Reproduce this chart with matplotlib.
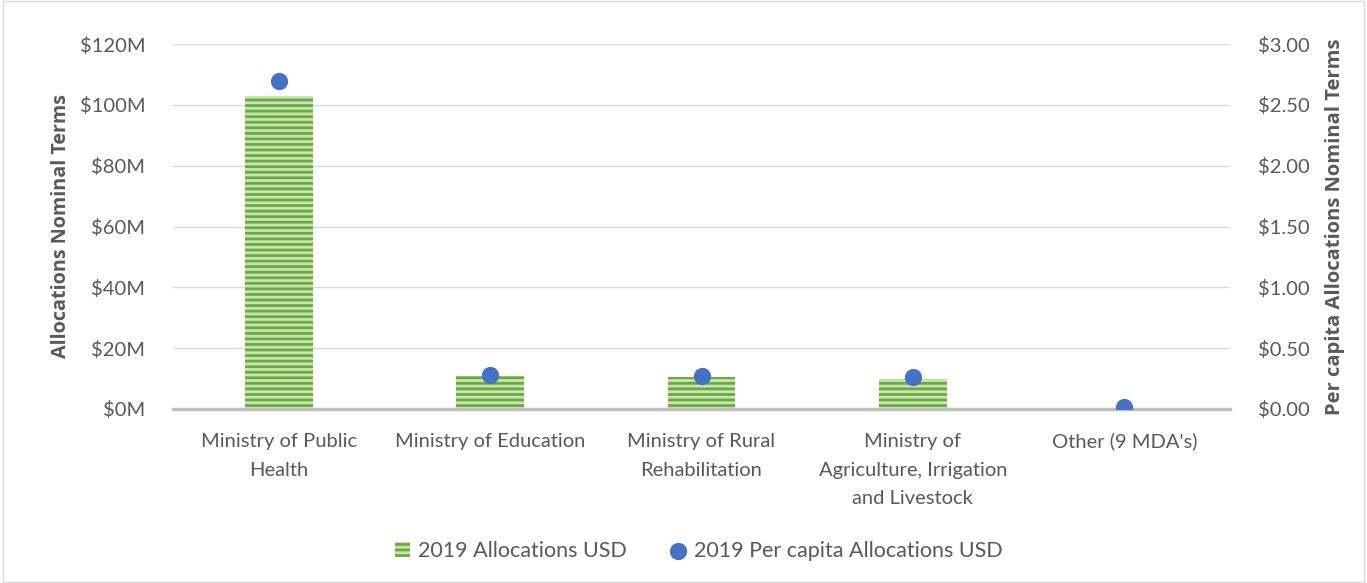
import matplotlib
matplotlib.use("Agg")
import matplotlib.pyplot as plt
import matplotlib.ticker as mticker
from matplotlib.patches import Rectangle

plt.rcParams['font.family'] = ['Lato', 'DejaVu Sans']
plt.rcParams['hatch.linewidth'] = 2.0

categories = ["Ministry of Public\nHealth", "Ministry of Education", "Ministry of Rural\nRehabilitation",
              "Ministry of\nAgriculture, Irrigation\nand Livestock", "Other (9 MDA's)"]
allocations_m = [103.0, 11.0, 10.6, 10.0, 0.2]
per_capita = [2.70, 0.28, 0.27, 0.26, 0.02]

text_color = '#595959'
fs = 14.5
fig = plt.figure(figsize=(13.67, 5.83), dpi=100)
fig.patches.append(Rectangle((0.002, 0.002), 0.996, 0.996, transform=fig.transFigure,
                             fill=False, edgecolor='#D9D9D9', linewidth=1))
ax = fig.add_axes([173/1367, 1-409/583, (1230-173)/1367, (409-44)/583])
x = list(range(len(categories)))
bars = ax.bar(x, allocations_m, width=0.32, color='#6AAB3F', edgecolor='#C9E3B5',
              hatch='---', linewidth=0, zorder=2, label='2019 Allocations USD')
ax.set_xlim(-0.5, 4.5)
ax.set_ylim(0, 120)
ax.yaxis.set_major_locator(mticker.MultipleLocator(20))
ax.yaxis.set_major_formatter(mticker.FuncFormatter(lambda v, p: f"${v:.0f}M"))
ax.grid(axis='y', color='#D9D9D9', linewidth=1, zorder=0)
ax.set_axisbelow(True)
for s in ['top', 'right', 'left']:
    ax.spines[s].set_visible(False)
ax.spines['bottom'].set_color('#BFBFBF')
ax.spines['bottom'].set_linewidth(2.5)
ax.spines['bottom'].set_zorder(3)
ax.set_xticks(x)
ax.set_xticklabels(categories, fontsize=fs, color=text_color, linespacing=1.85)
ax.tick_params(axis='both', length=0, labelcolor=text_color, labelsize=fs)
ax.tick_params(axis='x', pad=17)
ax.tick_params(axis='y', pad=20)
ax.set_ylabel('Allocations Nominal Terms', fontsize=14.2, fontweight='bold', color=text_color,
              labelpad=6, family=['Open Sans', 'DejaVu Sans'])

ax2 = ax.twinx()
ax2.set_ylim(0, 3.0)
ax2.yaxis.set_major_locator(mticker.MultipleLocator(0.5))
ax2.yaxis.set_major_formatter(mticker.FuncFormatter(lambda v, p: f"${v:.2f}"))
ax2.scatter(x, per_capita, s=130, color='#4472C4', zorder=4, label='2019 Per capita Allocations USD')
for s in ['top', 'right', 'left', 'bottom']:
    ax2.spines[s].set_visible(False)
ax2.tick_params(axis='y', length=0, labelcolor=text_color, labelsize=fs, pad=20)
ax2.set_ylabel('Per capita Allocations Nominal Terms', fontsize=14.5, fontweight='bold',
               color=text_color, labelpad=11, family=['Open Sans', 'DejaVu Sans'])

h1, l1 = ax.get_legend_handles_labels()
h2, l2 = ax2.get_legend_handles_labels()
fig.legend(h1 + h2, l1 + l2, loc='center', bbox_to_anchor=(0.511, 1-551/583), ncol=2,
           frameon=False, fontsize=15.5, labelcolor=text_color, handlelength=0.7,
           handleheight=0.7, columnspacing=2.0, handletextpad=0.4)

fig.savefig('out.png', dpi=100)
